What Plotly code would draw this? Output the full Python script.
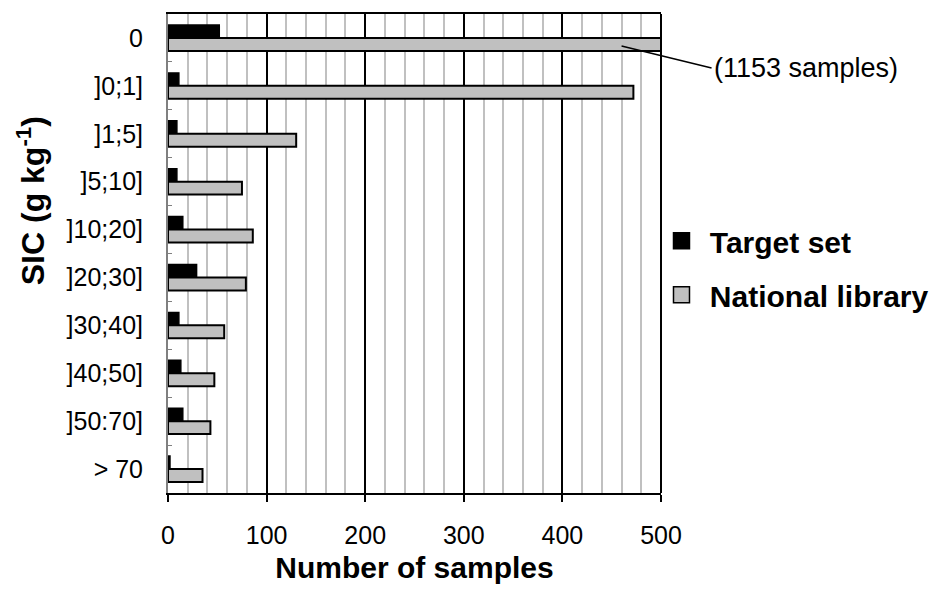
import plotly.graph_objects as go

categories = ["0", "]0;1]", "]1;5]", "]5;10]", "]10;20]", "]20;30]", "]30;40]", "]40;50]", "]50:70]", "> 70"]
target_set = [52, 11, 9, 9, 15, 29, 11, 13, 15, 2]
national_library = [1153, 472, 130, 75, 86, 79, 57, 47, 43, 35]
x_ticks = [0, 100, 200, 300, 400, 500]
series_names = ["Target set", "National library"]
series_colors = ["black", "#c0c0c0"]

FONT = "Liberation Sans, Arial, sans-serif"

fig = go.Figure()
for vals, name, col in zip([target_set, national_library], series_names, series_colors):
    fig.add_trace(go.Bar(
        y=categories, x=vals, orientation="h", name=name, showlegend=False,
        marker=dict(color=col, line=dict(color="black", width=1.5 if col == "black" else 2)),
    ))
# legend entries (square swatches)
for i, (name, col) in enumerate(zip(series_names, series_colors)):
    fig.add_trace(go.Scatter(
        x=[None], y=[None], mode="markers", name=f"\u00a0<b>{name}</b>", legendgroup=str(i),
        marker=dict(symbol="square", size=16, color=col, line=dict(color="black", width=1.5)),
    ))

fig.update_layout(
    width=935, height=582,
    margin=dict(l=160, r=282, t=6, b=97),
    paper_bgcolor="white", plot_bgcolor="white",
    barmode="group", bargap=0.46, bargroupgap=0,
    font=dict(family=FONT, color="black"),
    showlegend=True,
    legend=dict(
        x=1.001, y=0.47, xanchor="left", yanchor="middle",
        font=dict(size=30, family=FONT, color="black"),
        tracegroupgap=12, itemsizing="trace",
        bgcolor="rgba(0,0,0,0)",
    ),
    xaxis=dict(
        range=[0, 500], tickvals=x_ticks, ticktext=[str(v) for v in x_ticks],
        showgrid=True, gridcolor="black", gridwidth=2,
        minor=dict(dtick=20, showgrid=True, gridcolor="#c0c0c0", gridwidth=2),
        showline=True, linecolor="black", linewidth=2, mirror=True,
        ticks="outside", ticklen=7, tickwidth=2, tickcolor="black",
        tickfont=dict(size=25, family=FONT),
        ticklabelstandoff=12,
        title=dict(text="<b>Number of samples</b>", font=dict(size=30, family=FONT), standoff=9),
        zeroline=False, fixedrange=True, automargin=False,
    ),
    yaxis=dict(
        categoryorder="array", categoryarray=categories,
        range=[len(categories) - 0.5, -0.5],
        showline=True, linecolor="#808080", linewidth=2,
        ticks="inside", ticklen=4, tickcolor="#808080", tickson="boundaries",
        tickfont=dict(size=25, family=FONT),
        ticklabelstandoff=18,
        showgrid=False, fixedrange=True, automargin=False,
    ),
)

# y-axis title (placed above centre, as in the original)
fig.add_annotation(
    text="<b>SIC (g kg<sup>-1</sup>)</b>", textangle=-90, showarrow=False,
    xref="paper", yref="paper", x=-0.279, y=0.61, xanchor="center", yanchor="middle",
    font=dict(size=32, family=FONT),
)

# right border of plot area
fig.add_shape(type="line", xref="x domain", yref="y domain", x0=1, x1=1, y0=0, y1=1,
              line=dict(color="black", width=2))

# callout for the clipped bar
fig.add_annotation(
    x=460, xref="x", y=0.17, yref="y",
    text="(1153 samples)", showarrow=True, arrowhead=0, arrowwidth=1.5, arrowcolor="black",
    ax=90, ay=22, standoff=0,
    xanchor="left", yanchor="middle", font=dict(size=27, family=FONT),
)

fig.write_html("out.html")
